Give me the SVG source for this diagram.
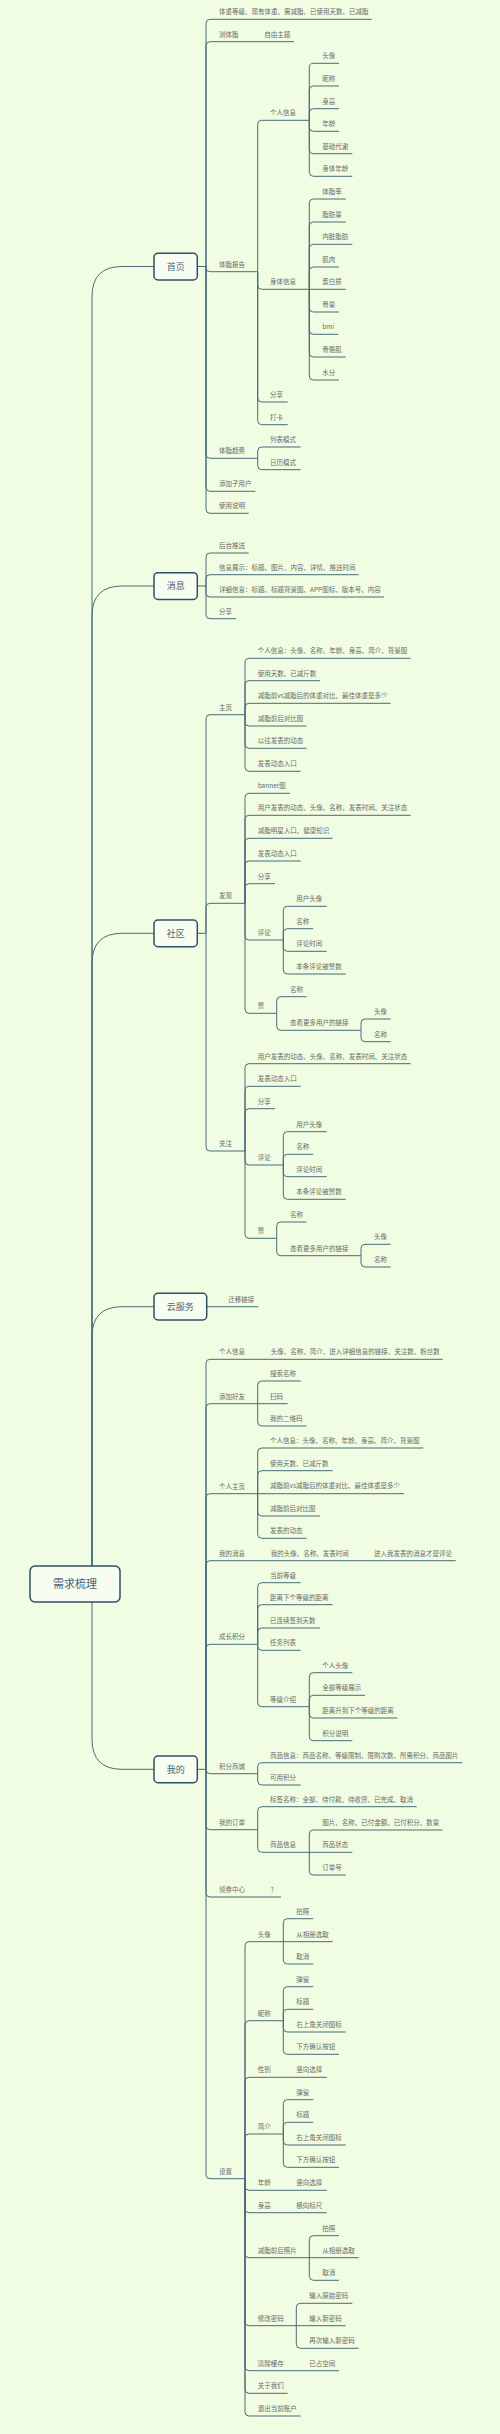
<svg xmlns="http://www.w3.org/2000/svg" width="500" height="2434" viewBox="0 0 500 2434">
<style>
.t{font-family:"Noto Sans CJK SC","Noto Sans",sans-serif;font-size:6.5px;fill:#6a6a6a}
.m{font-family:"Noto Sans CJK SC","Noto Sans",sans-serif;font-size:9px;fill:#4a6378;text-anchor:middle}
.r{font-family:"Noto Sans CJK SC","Noto Sans",sans-serif;font-size:11px;fill:#4a6378;text-anchor:middle}
.box{fill:#f8fdf2;stroke:#2f4f63;stroke-width:1.5}
.c path{fill:none;stroke:#4a6a7a;stroke-width:1}
</style>
<rect width="500" height="2434" fill="#f0fde2"/>
<g class="c" id="connectors">
<path d="M92 1566 V296.5 Q92 266.5 122 266.5 H154"/>
<path d="M92 1566 V616 Q92 586 122 586 H154"/>
<path d="M92 1566 V963.3 Q92 933.3 122 933.3 H154"/>
<path d="M92 1566 V1336.7 Q92 1306.7 122 1306.7 H154"/>
<path d="M92 1602 V1739.3 Q92 1769.3 122 1769.3 H154"/>
<path d="M197.3 266.5 H206"/>
<path d="M206 266.5 V23.3 Q206 19.3 210 19.3 H371.7"/>
<path d="M206 266.5 V45.7 Q206 41.7 210 41.7 H294"/>
<path d="M206 266.5 V267.7 Q206 271.7 210 271.7 H257.7"/>
<path d="M206 266.5 V454.3 Q206 458.3 210 458.3 H257.7"/>
<path d="M206 266.5 V487.3 Q206 491.3 210 491.3 H255.3"/>
<path d="M206 266.5 V509.3 Q206 513.3 210 513.3 H248.7"/>
<path d="M257.7 271.7 V124.3 Q257.7 120.3 261.7 120.3 H309.3"/>
<path d="M257.7 271.7 V285.3 Q257.7 289.3 261.7 289.3 H309.3"/>
<path d="M257.7 271.7 V398 Q257.7 402 261.7 402 H287.7"/>
<path d="M257.7 271.7 V420.7 Q257.7 424.7 261.7 424.7 H287.7"/>
<path d="M309.3 120.3 V67.3 Q309.3 63.3 313.3 63.3 H339"/>
<path d="M309.3 120.3 V90 Q309.3 86 313.3 86 H339"/>
<path d="M309.3 120.3 V112.7 Q309.3 108.7 313.3 108.7 H339"/>
<path d="M309.3 120.3 V127.3 Q309.3 131.3 313.3 131.3 H339"/>
<path d="M309.3 120.3 V149.7 Q309.3 153.7 313.3 153.7 H352.3"/>
<path d="M309.3 120.3 V172.3 Q309.3 176.3 313.3 176.3 H352.3"/>
<path d="M309.3 289.3 V203 Q309.3 199 313.3 199 H345.7"/>
<path d="M309.3 289.3 V226 Q309.3 222 313.3 222 H345.7"/>
<path d="M309.3 289.3 V248.3 Q309.3 244.3 313.3 244.3 H352.3"/>
<path d="M309.3 289.3 V271 Q309.3 267 313.3 267 H339"/>
<path d="M309.3 289.3 H345.7"/>
<path d="M309.3 289.3 V308 Q309.3 312 313.3 312 H339"/>
<path d="M309.3 289.3 V330.3 Q309.3 334.3 313.3 334.3 H338.3"/>
<path d="M309.3 289.3 V353 Q309.3 357 313.3 357 H345.7"/>
<path d="M309.3 289.3 V376 Q309.3 380 313.3 380 H339"/>
<path d="M257.7 458.3 V451 Q257.7 447 261.7 447 H300.7"/>
<path d="M257.7 458.3 V465.7 Q257.7 469.7 261.7 469.7 H300.7"/>
<path d="M197.3 586 H206"/>
<path d="M206 586 V557 Q206 553 210 553 H248.7"/>
<path d="M206 586 V578.7 Q206 574.7 210 574.7 H358.7"/>
<path d="M206 586 V593 Q206 597 210 597 H384"/>
<path d="M206 586 V614.7 Q206 618.7 210 618.7 H236"/>
<path d="M197.3 933.3 H206"/>
<path d="M206 933.3 V718.7 Q206 714.7 210 714.7 H245"/>
<path d="M206 933.3 V907.3 Q206 903.3 210 903.3 H245"/>
<path d="M206 933.3 V1147 Q206 1151 210 1151 H245"/>
<path d="M245 714.7 V662.3 Q245 658.3 249 658.3 H410.7"/>
<path d="M245 714.7 V684.7 Q245 680.7 249 680.7 H320"/>
<path d="M245 714.7 V707.3 Q245 703.3 249 703.3 H390.7"/>
<path d="M245 714.7 V722 Q245 726 249 726 H306.7"/>
<path d="M245 714.7 V744.3 Q245 748.3 249 748.3 H306.7"/>
<path d="M245 714.7 V767.3 Q245 771.3 249 771.3 H300.7"/>
<path d="M245 903.3 V797.3 Q245 793.3 249 793.3 H290"/>
<path d="M245 903.3 V819.3 Q245 815.3 249 815.3 H410.7"/>
<path d="M245 903.3 V842.3 Q245 838.3 249 838.3 H332.7"/>
<path d="M245 903.3 V865 Q245 861 249 861 H300.7"/>
<path d="M245 903.3 V887.7 Q245 883.7 249 883.7 H275"/>
<path d="M245 903.3 V936 Q245 940 249 940 H283.3"/>
<path d="M245 903.3 V1009.3 Q245 1013.3 249 1013.3 H276.7"/>
<path d="M283.3 940 V910.3 Q283.3 906.3 287.3 906.3 H326.7"/>
<path d="M283.3 940 V932.7 Q283.3 928.7 287.3 928.7 H313.3"/>
<path d="M283.3 940 V947.3 Q283.3 951.3 287.3 951.3 H326.7"/>
<path d="M283.3 940 V970 Q283.3 974 287.3 974 H345.7"/>
<path d="M276.7 1013.3 V1000.7 Q276.7 996.7 280.7 996.7 H306.7"/>
<path d="M276.7 1013.3 V1026.3 Q276.7 1030.3 280.7 1030.3 H361"/>
<path d="M361 1030.3 V1023 Q361 1019 365 1019 H390.7"/>
<path d="M361 1030.3 V1037.7 Q361 1041.7 365 1041.7 H390.7"/>
<path d="M245 1151 V1067.7 Q245 1063.7 249 1063.7 H410.7"/>
<path d="M245 1151 V1090.3 Q245 1086.3 249 1086.3 H300.7"/>
<path d="M245 1151 V1112.7 Q245 1108.7 249 1108.7 H275"/>
<path d="M245 1151 V1161 Q245 1165 249 1165 H283.3"/>
<path d="M245 1151 V1234.3 Q245 1238.3 249 1238.3 H276.7"/>
<path d="M283.3 1165 V1135.7 Q283.3 1131.7 287.3 1131.7 H326.7"/>
<path d="M283.3 1165 V1158.3 Q283.3 1154.3 287.3 1154.3 H313.3"/>
<path d="M283.3 1165 V1172.7 Q283.3 1176.7 287.3 1176.7 H326.7"/>
<path d="M283.3 1165 V1195.3 Q283.3 1199.3 287.3 1199.3 H345.7"/>
<path d="M276.7 1238.3 V1226 Q276.7 1222 280.7 1222 H306.7"/>
<path d="M276.7 1238.3 V1251.7 Q276.7 1255.7 280.7 1255.7 H361"/>
<path d="M361 1255.7 V1248.3 Q361 1244.3 365 1244.3 H390.7"/>
<path d="M361 1255.7 V1263 Q361 1267 365 1267 H390.7"/>
<path d="M206.7 1306.7 H258.3"/>
<path d="M197.3 1769.3 H206"/>
<path d="M206 1769.3 V1363.3 Q206 1359.3 210 1359.3 H442.7"/>
<path d="M206 1769.3 V1407.7 Q206 1403.7 210 1403.7 H257.7"/>
<path d="M206 1769.3 V1497.7 Q206 1493.7 210 1493.7 H257.7"/>
<path d="M206 1769.3 V1564.7 Q206 1560.7 210 1560.7 H455.7"/>
<path d="M206 1769.3 V1648.3 Q206 1644.3 210 1644.3 H257.7"/>
<path d="M206 1769.3 V1769.7 Q206 1773.7 210 1773.7 H257.7"/>
<path d="M206 1769.3 V1825.7 Q206 1829.7 210 1829.7 H257.7"/>
<path d="M206 1769.3 V1893 Q206 1897 210 1897 H281"/>
<path d="M206 1769.3 V2174.7 Q206 2178.7 210 2178.7 H245"/>
<path d="M257.7 1403.7 V1385 Q257.7 1381 261.7 1381 H300.7"/>
<path d="M257.7 1403.7 H287.7"/>
<path d="M257.7 1403.7 V1422 Q257.7 1426 261.7 1426 H306.7"/>
<path d="M257.7 1493.7 V1452 Q257.7 1448 261.7 1448 H423.3"/>
<path d="M257.7 1493.7 V1474.7 Q257.7 1470.7 261.7 1470.7 H332.7"/>
<path d="M257.7 1493.7 H404"/>
<path d="M257.7 1493.7 V1512 Q257.7 1516 261.7 1516 H320"/>
<path d="M257.7 1493.7 V1534.3 Q257.7 1538.3 261.7 1538.3 H306.7"/>
<path d="M257.7 1644.3 V1586.7 Q257.7 1582.7 261.7 1582.7 H300.7"/>
<path d="M257.7 1644.3 V1608.7 Q257.7 1604.7 261.7 1604.7 H332.7"/>
<path d="M257.7 1644.3 V1632 Q257.7 1628 261.7 1628 H320"/>
<path d="M257.7 1644.3 V1646.3 Q257.7 1650.3 261.7 1650.3 H300.7"/>
<path d="M257.7 1644.3 V1702.7 Q257.7 1706.7 261.7 1706.7 H309.3"/>
<path d="M309.3 1706.7 V1676.7 Q309.3 1672.7 313.3 1672.7 H352.3"/>
<path d="M309.3 1706.7 V1699.3 Q309.3 1695.3 313.3 1695.3 H365"/>
<path d="M309.3 1706.7 V1714 Q309.3 1718 313.3 1718 H397.3"/>
<path d="M309.3 1706.7 V1736.7 Q309.3 1740.7 313.3 1740.7 H352.3"/>
<path d="M257.7 1773.7 V1766.7 Q257.7 1762.7 261.7 1762.7 H462.3"/>
<path d="M257.7 1773.7 V1781 Q257.7 1785 261.7 1785 H300.7"/>
<path d="M257.7 1829.7 V1810.7 Q257.7 1806.7 261.7 1806.7 H416.7"/>
<path d="M257.7 1829.7 V1848.3 Q257.7 1852.3 261.7 1852.3 H309.3"/>
<path d="M309.3 1852.3 V1834 Q309.3 1830 313.3 1830 H442.7"/>
<path d="M309.3 1852.3 H352.3"/>
<path d="M309.3 1852.3 V1871 Q309.3 1875 313.3 1875 H345.7"/>
<path d="M245 2178.7 V1945.7 Q245 1941.7 249 1941.7 H283.3"/>
<path d="M245 2178.7 V2024.7 Q245 2020.7 249 2020.7 H283.3"/>
<path d="M245 2178.7 V2081.3 Q245 2077.3 249 2077.3 H326.7"/>
<path d="M245 2178.7 V2138 Q245 2134 249 2134 H283.3"/>
<path d="M245 2178.7 V2186.3 Q245 2190.3 249 2190.3 H326.7"/>
<path d="M245 2178.7 V2208.7 Q245 2212.7 249 2212.7 H326.7"/>
<path d="M245 2178.7 V2253.7 Q245 2257.7 249 2257.7 H309.3"/>
<path d="M245 2178.7 V2321.7 Q245 2325.7 249 2325.7 H296.3"/>
<path d="M245 2178.7 V2366.7 Q245 2370.7 249 2370.7 H339"/>
<path d="M245 2178.7 V2389.3 Q245 2393.3 249 2393.3 H287.7"/>
<path d="M245 2178.7 V2412 Q245 2416 249 2416 H300.7"/>
<path d="M283.3 1941.7 V1922.7 Q283.3 1918.7 287.3 1918.7 H313.3"/>
<path d="M283.3 1941.7 H332.7"/>
<path d="M283.3 1941.7 V1960 Q283.3 1964 287.3 1964 H313.3"/>
<path d="M283.3 2020.7 V1990.7 Q283.3 1986.7 287.3 1986.7 H313.3"/>
<path d="M283.3 2020.7 V2013.3 Q283.3 2009.3 287.3 2009.3 H313.3"/>
<path d="M283.3 2020.7 V2028 Q283.3 2032 287.3 2032 H345.7"/>
<path d="M283.3 2020.7 V2050.3 Q283.3 2054.3 287.3 2054.3 H339"/>
<path d="M283.3 2134 V2103.7 Q283.3 2099.7 287.3 2099.7 H313.3"/>
<path d="M283.3 2134 V2126.3 Q283.3 2122.3 287.3 2122.3 H313.3"/>
<path d="M283.3 2134 V2141 Q283.3 2145 287.3 2145 H345.7"/>
<path d="M283.3 2134 V2163.3 Q283.3 2167.3 287.3 2167.3 H339"/>
<path d="M309.3 2257.7 V2239.7 Q309.3 2235.7 313.3 2235.7 H339"/>
<path d="M309.3 2257.7 H358.7"/>
<path d="M309.3 2257.7 V2276.3 Q309.3 2280.3 313.3 2280.3 H339"/>
<path d="M296.3 2325.7 V2307.3 Q296.3 2303.3 300.3 2303.3 H352.3"/>
<path d="M296.3 2325.7 H345.7"/>
<path d="M296.3 2325.7 V2344.3 Q296.3 2348.3 300.3 2348.3 H358.7"/>
</g>
<g id="root"><rect class="box" x="30" y="1566" width="90" height="36" rx="5"/><text class="r" x="75" y="1588">需求梳理</text></g>
<g id="shouye"><rect class="box" x="154" y="253.3" width="43.3" height="26.7" rx="4"/><text class="m" x="175.7" y="269.7">首页</text></g>
<g id="xiaoxi"><rect class="box" x="154" y="572.7" width="43.3" height="26.7" rx="4"/><text class="m" x="175.7" y="589.2">消息</text></g>
<g id="shequ"><rect class="box" x="154" y="920" width="43.3" height="26.7" rx="4"/><text class="m" x="175.7" y="936.5">社区</text></g>
<g id="yunfuwu"><rect class="box" x="154" y="1293.3" width="52.7" height="26.7" rx="4"/><text class="m" x="180.3" y="1309.9">云服务</text></g>
<g id="wode"><rect class="box" x="154" y="1756" width="43.3" height="26.7" rx="4"/><text class="m" x="175.7" y="1772.5">我的</text></g>
<g id="shouye-nodes" class="t">
<g id="n-tizhong"><text class="t" x="219" y="14.3">体重等级、现有体重、需减脂、已使用天数、已减脂</text></g>
<g id="n-cetizhi"><text class="t" x="219" y="36.7">测体脂</text><text class="t" x="264.3" y="36.7">自由主题</text></g>
<g id="n-tizhibaogao"><text class="t" x="219" y="266.7">体脂报告</text></g>
<g id="n-gerenxinxi1"><text class="t" x="270" y="115.3">个人信息</text></g>
<g id="n-gx-items"><text class="t" x="322.3" y="58.3">头像</text><text class="t" x="322.3" y="81">昵称</text><text class="t" x="322.3" y="103.7">身高</text><text class="t" x="322.3" y="126.3">年龄</text><text class="t" x="322.3" y="148.7">基础代谢</text><text class="t" x="322.3" y="171.3">身体年龄</text></g>
<g id="n-shentixinxi"><text class="t" x="270" y="284.3">身体信息</text></g>
<g id="n-st-items"><text class="t" x="322.3" y="194">体脂率</text><text class="t" x="322.3" y="217">脂肪量</text><text class="t" x="322.3" y="239.3">内脏脂肪</text><text class="t" x="322.3" y="262">肌肉</text><text class="t" x="322.3" y="284.3">蛋白质</text><text class="t" x="322.3" y="307">骨量</text><text class="t" x="322.3" y="329.3">bmi</text><text class="t" x="322.3" y="352">骨骼肌</text><text class="t" x="322.3" y="375">水分</text></g>
<g id="n-fenxiang1"><text class="t" x="270" y="397">分享</text></g>
<g id="n-daka"><text class="t" x="270" y="419.7">打卡</text></g>
<g id="n-qushi"><text class="t" x="219" y="453.3">体脂趋势</text><text class="t" x="270" y="442">列表模式</text><text class="t" x="270" y="464.7">日历模式</text></g>
<g id="n-zihu"><text class="t" x="219" y="486.3">添加子用户</text></g>
<g id="n-shuoming"><text class="t" x="219" y="508.3">使用说明</text></g>
</g>
<g id="xiaoxi-nodes">
<g id="n-houtai"><text class="t" x="219" y="548">后台推送</text></g>
<g id="n-xxzs"><text class="t" x="219" y="569.7">信息展示：标题、图片、内容、详情、推送时间</text></g>
<g id="n-xxxx"><text class="t" x="219" y="592">详细信息：标题、标题背景图、APP图标、版本号、内容</text></g>
<g id="n-fenxiang2"><text class="t" x="219" y="613.7">分享</text></g>
</g>
<g id="shequ-nodes">
<g id="n-zhuye"><text class="t" x="219" y="709.7">主页</text>
<text class="t" x="257.7" y="653.3">个人信息：头像、名称、年龄、身高、简介、背景图</text>
<text class="t" x="257.7" y="675.7">使用天数、已减斤数</text>
<text class="t" x="257.7" y="698.3">减脂前vs减脂后的体重对比、最佳体重是多少</text>
<text class="t" x="257.7" y="721">减脂前后对比图</text>
<text class="t" x="257.7" y="743.3">以往发表的动态</text>
<text class="t" x="257.7" y="766.3">发表动态入口</text></g>
<g id="n-faxian"><text class="t" x="219" y="898.3">发现</text>
<text class="t" x="257.7" y="788.3">banner图</text>
<text class="t" x="257.7" y="810.3">用户发表的动态、头像、名称、发表时间、关注状态</text>
<text class="t" x="257.7" y="833.3">减脂明星入口、健康知识</text>
<text class="t" x="257.7" y="856">发表动态入口</text>
<text class="t" x="257.7" y="878.7">分享</text>
<text class="t" x="257.7" y="935">评论</text>
<text class="t" x="296.3" y="901.3">用户头像</text><text class="t" x="296.3" y="923.7">名称</text><text class="t" x="296.3" y="946.3">评论时间</text><text class="t" x="296.3" y="969">本条评论被赞数</text>
<text class="t" x="257.7" y="1008.3">赞</text>
<text class="t" x="290" y="991.7">名称</text><text class="t" x="290" y="1025.3">查看更多用户的链接</text>
<text class="t" x="374" y="1014">头像</text><text class="t" x="374" y="1036.7">名称</text></g>
<g id="n-guanzhu"><text class="t" x="219" y="1146">关注</text>
<text class="t" x="257.7" y="1058.7">用户发表的动态、头像、名称、发表时间、关注状态</text>
<text class="t" x="257.7" y="1081.3">发表动态入口</text>
<text class="t" x="257.7" y="1103.7">分享</text>
<text class="t" x="257.7" y="1160">评论</text>
<text class="t" x="296.3" y="1126.7">用户头像</text><text class="t" x="296.3" y="1149.3">名称</text><text class="t" x="296.3" y="1171.7">评论时间</text><text class="t" x="296.3" y="1194.3">本条评论被赞数</text>
<text class="t" x="257.7" y="1233.3">赞</text>
<text class="t" x="290" y="1217">名称</text><text class="t" x="290" y="1250.7">查看更多用户的链接</text>
<text class="t" x="374" y="1239.3">头像</text><text class="t" x="374" y="1262">名称</text></g>
</g>
<g id="yun-nodes"><g id="n-qianyi"><text class="t" x="228.3" y="1301.7">迁移链接</text></g></g>
<g id="wode-nodes">
<g id="n-grxx"><text class="t" x="219" y="1354.3">个人信息</text><text class="t" x="270.7" y="1354.3">头像、名称、简介、进入详细信息的链接、关注数、粉丝数</text></g>
<g id="n-tjhy"><text class="t" x="219" y="1398.7">添加好友</text><text class="t" x="270" y="1376">搜索名称</text><text class="t" x="270" y="1398.7">扫码</text><text class="t" x="270" y="1421">我的二维码</text></g>
<g id="n-grzy"><text class="t" x="219" y="1488.7">个人主页</text>
<text class="t" x="270" y="1443">个人信息：头像、名称、年龄、身高、简介、背景图</text>
<text class="t" x="270" y="1465.7">使用天数、已减斤数</text>
<text class="t" x="270" y="1488.3">减脂前vs减脂后的体重对比、最佳体重是多少</text>
<text class="t" x="270" y="1511">减脂前后对比图</text>
<text class="t" x="270" y="1533.3">发表的动态</text></g>
<g id="n-wdxx"><text class="t" x="219" y="1555.7">我的消息</text><text class="t" x="270.7" y="1555.7">我的头像、名称、发表时间</text><text class="t" x="374" y="1555.7">进入我发表的消息才是评论</text></g>
<g id="n-czjf"><text class="t" x="219" y="1639.3">成长积分</text>
<text class="t" x="270" y="1577.7">当前等级</text>
<text class="t" x="270" y="1599.7">距离下个等级的距离</text>
<text class="t" x="270" y="1623">已连续签到天数</text>
<text class="t" x="270" y="1645.3">任务列表</text>
<text class="t" x="270" y="1701.7">等级介绍</text>
<text class="t" x="322.3" y="1667.7">个人头像</text><text class="t" x="322.3" y="1690.3">全部等级展示</text><text class="t" x="322.3" y="1713">距离升到下个等级的距离</text><text class="t" x="322.3" y="1735.7">积分说明</text></g>
<g id="n-jfsc"><text class="t" x="219" y="1768.7">积分商城</text>
<text class="t" x="270" y="1757.7">商品信息：商品名称、等级限制、限购次数、所需积分、商品图片</text>
<text class="t" x="270" y="1780">可用积分</text></g>
<g id="n-wddd"><text class="t" x="219" y="1824.7">我的订单</text>
<text class="t" x="270" y="1801.7">标签名称：全部、待付款、待收货、已完成、取消</text>
<text class="t" x="270" y="1847.3">商品信息</text>
<text class="t" x="322.3" y="1825">图片、名称、已付金额、已付积分、数量</text><text class="t" x="322.3" y="1847.3">商品状态</text><text class="t" x="322.3" y="1870">订单号</text></g>
<g id="n-lqzx"><text class="t" x="219" y="1892">领券中心</text><text class="t" x="270.7" y="1892">?</text></g>
<g id="n-shezhi"><text class="t" x="219" y="2173.7">设置</text>
<text class="t" x="257.7" y="1936.7">头像</text>
<text class="t" x="296.3" y="1913.7">拍照</text><text class="t" x="296.3" y="1936.7">从相册选取</text><text class="t" x="296.3" y="1959">取消</text>
<text class="t" x="257.7" y="2015.7">昵称</text>
<text class="t" x="296.3" y="1981.7">弹窗</text><text class="t" x="296.3" y="2004.3">标题</text><text class="t" x="296.3" y="2027">右上角关闭图标</text><text class="t" x="296.3" y="2049.3">下方确认按钮</text>
<text class="t" x="257.7" y="2072.3">性别</text><text class="t" x="296.3" y="2072.3">竖向选择</text>
<text class="t" x="257.7" y="2129">简介</text>
<text class="t" x="296.3" y="2094.7">弹窗</text><text class="t" x="296.3" y="2117.3">标题</text><text class="t" x="296.3" y="2140">右上角关闭图标</text><text class="t" x="296.3" y="2162.3">下方确认按钮</text>
<text class="t" x="257.7" y="2185.3">年龄</text><text class="t" x="296.3" y="2185.3">竖向选择</text>
<text class="t" x="257.7" y="2207.7">身高</text><text class="t" x="296.3" y="2207.7">横向标尺</text>
<text class="t" x="257.7" y="2252.7">减脂前后照片</text>
<text class="t" x="322.3" y="2230.7">拍照</text><text class="t" x="322.3" y="2252.7">从相册选取</text><text class="t" x="322.3" y="2275.3">取消</text>
<text class="t" x="257.7" y="2320.7">修改密码</text>
<text class="t" x="309.3" y="2298.3">输入原始密码</text><text class="t" x="309.3" y="2320.7">输入新密码</text><text class="t" x="309.3" y="2343.3">再次输入新密码</text>
<text class="t" x="257.7" y="2365.7">清除缓存</text><text class="t" x="309.3" y="2365.7">已占空间</text>
<text class="t" x="257.7" y="2388.3">关于我们</text>
<text class="t" x="257.7" y="2411">退出当前账户</text></g>
</g>
</svg>
